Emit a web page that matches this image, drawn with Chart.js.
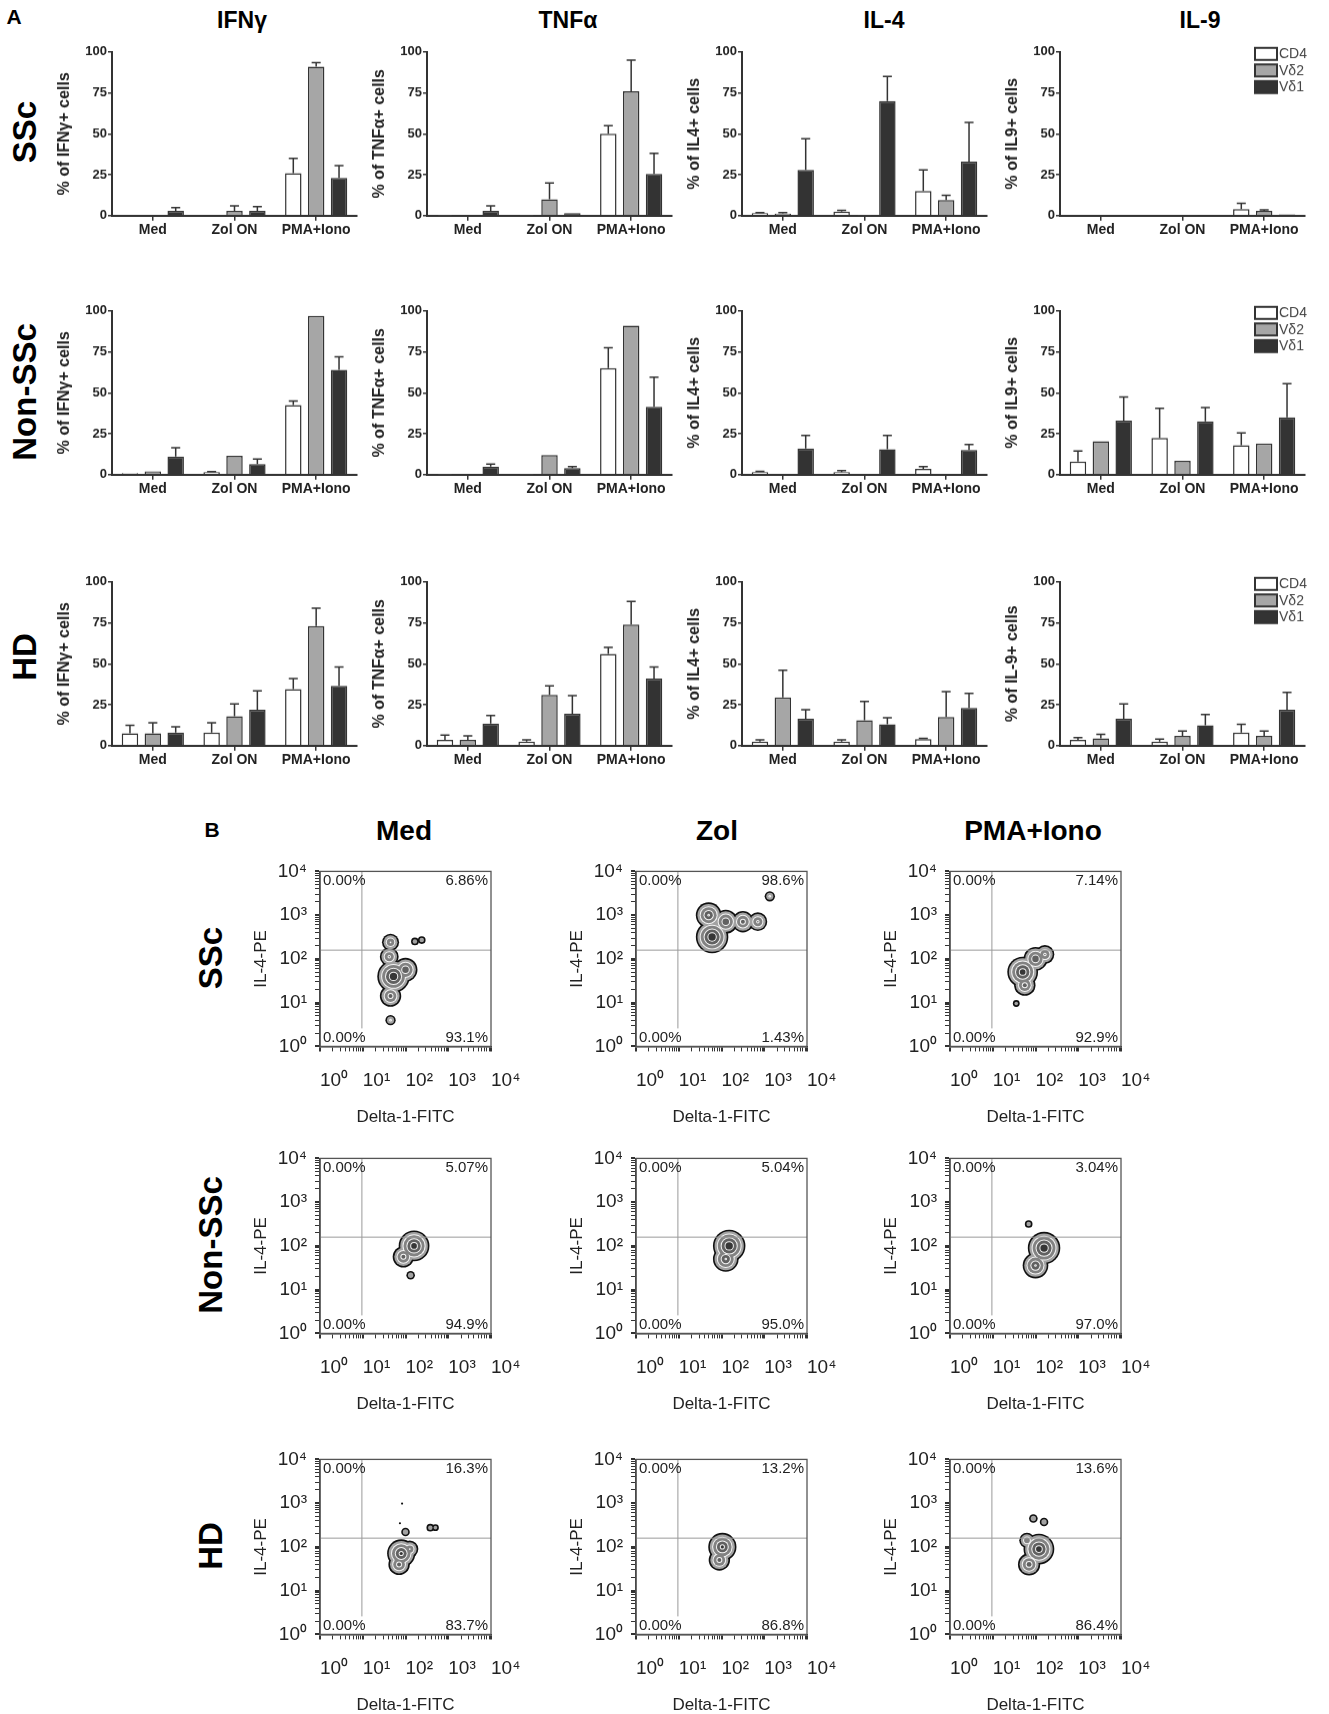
<!DOCTYPE html>
<html>
<head>
<meta charset="utf-8">
<script src="https://cdn.jsdelivr.net/npm/chart.js@4.4.1/dist/chart.umd.min.js"></script>
<style>
body { margin: 0; background: #fff; width: 1329px; height: 1714px; position: relative; overflow: hidden; font-family: Arial, "Liberation Sans", sans-serif; }
.box { position: absolute; }
.lbl { position: absolute; font-weight: bold; color: #000; white-space: nowrap; transform: translate(-50%, -50%); }
.rot { transform: translate(-50%, -50%) rotate(-90deg); }
</style>
</head>
<body>
<script>
// ---- panel A data ----
const categories = ['Med', 'Zol ON', 'PMA+Iono'];
const seriesNames = ['CD4', 'Vδ2', 'Vδ1'];
const groups = ['SSc', 'Non-SSc', 'HD'];
const cytokines = ['IFNγ', 'TNFα', 'IL-4', 'IL-9'];
const yTitles = [
  ['% of IFNγ+ cells', '% of TNFα+ cells', '% of IL4+ cells', '% of IL9+ cells'],
  ['% of IFNγ+ cells', '% of TNFα+ cells', '% of IL4+ cells', '% of IL9+ cells'],
  ['% of IFNγ+ cells', '% of TNFα+ cells', '% of IL4+ cells', '% of IL-9+ cells']
];

// means per series [CD4, Vd2, Vd1], and top of error bar
const sscIfngMean = [[0, 0.4, 26], [0, 3, 91], [3, 3, 23]];
const sscIfngErr  = [[0, 0.4, 35], [0, 6, 93.5], [5, 5.5, 30.5]];
const sscTnfMean  = [[0.3, 0.3, 50], [0, 10, 76], [3, 1.5, 25.5]];
const sscTnfErr   = [[0.3, 0.3, 55], [0, 20, 95], [6, 1.5, 38]];
const sscIl4Mean  = [[1.5, 2.5, 15], [1.2, 0.3, 9.5], [28, 70, 33]];
const sscIl4Err   = [[1.8, 3.2, 28], [1.8, 0.3, 12.5], [47, 85, 57]];
const sscIl9Mean  = [[0, 0, 4], [0, 0, 3], [0.5, 0.3, 0.8]];
const sscIl9Err   = [[0, 0, 7.5], [0, 0, 3.5], [0.5, 0.3, 1]];

const nonIfngMean = [[1, 1.5, 42.5], [2, 11.5, 97], [11, 6.5, 64]];
const nonIfngErr  = [[1.2, 1.8, 45], [2.2, 11.5, 97], [16.5, 9.5, 72]];
const nonTnfMean  = [[0.3, 0.3, 65], [0, 12, 91], [5, 4, 41.5]];
const nonTnfErr   = [[0.3, 0.3, 77.5], [0, 12, 91], [6.5, 5, 59.5]];
const nonIl4Mean  = [[1.5, 1.5, 3.5], [0, 0, 0], [16, 15.5, 15]];
const nonIl4Err   = [[2, 2.5, 5], [0, 0, 0], [24, 24, 18.5]];
const nonIl9Mean  = [[8, 22.5, 18], [20.5, 8.5, 19], [33, 32.5, 35]];
const nonIl9Err   = [[14.5, 40.5, 25.5], [20.5, 8.5, 19], [47.5, 41, 55.5]];

const hdIfngMean = [[7.5, 8, 34.5], [7.5, 18, 73], [8, 22, 36.5]];
const hdIfngErr  = [[12.5, 14, 41], [14, 25.5, 84], [11.5, 33.5, 48]];
const hdTnfMean  = [[3.5, 2.5, 56], [3.5, 31, 74], [13.5, 19.5, 41]];
const hdTnfErr   = [[6.5, 3.5, 60], [6, 36.5, 88], [18.5, 30.5, 48]];
const hdIl4Mean  = [[2.5, 2.5, 4], [29.5, 15.5, 17.5], [16.5, 13, 23]];
const hdIl4Err   = [[3.5, 3.5, 4.5], [46, 27, 33], [22, 17, 32]];
const hdIl9Mean  = [[3.5, 2.5, 8], [4.5, 6, 6], [16.5, 12.5, 22]];
const hdIl9Err   = [[5, 4, 13], [7, 9, 9], [25.5, 19, 32.5]];

// ---- panel B data ----
const conditions = ['Med', 'Zol', 'PMA+Iono'];
const flowTickLabels = ['10⁰', '10¹', '10²', '10³', '10⁴'];
const gateX = 0.98, gateY = 2.2;

// populations (log decades), r = spread in decades
const sscMedBlobs = [{x:1.65,y:2.38,r:0.2},{x:1.62,y:2.05,r:0.22},{x:1.72,y:1.6,r:0.38},{x:2.0,y:1.75,r:0.28},{x:1.65,y:1.15,r:0.25},{x:2.22,y:2.4,r:0.09},{x:2.38,y:2.43,r:0.09},{x:1.65,y:0.6,r:0.12}];
const sscZolBlobs = [{x:1.78,y:2.5,r:0.38},{x:1.7,y:3.0,r:0.3},{x:2.1,y:2.85,r:0.28},{x:2.5,y:2.85,r:0.25},{x:2.85,y:2.85,r:0.22},{x:3.13,y:3.43,r:0.12}];
const sscPmaBlobs = [{x:1.7,y:1.7,r:0.36},{x:1.75,y:1.4,r:0.25},{x:2.0,y:2.0,r:0.28},{x:2.22,y:2.1,r:0.22},{x:1.55,y:0.98,r:0.08}];
const nonMedBlobs = [{x:2.2,y:2.0,r:0.36},{x:1.95,y:1.75,r:0.25},{x:2.12,y:1.33,r:0.1}];
const nonZolBlobs = [{x:2.18,y:2.0,r:0.38},{x:2.1,y:1.7,r:0.3}];
const nonPmaBlobs = [{x:2.2,y:1.95,r:0.38},{x:2.0,y:1.55,r:0.3},{x:1.84,y:2.5,r:0.09}];
const hdMedBlobs  = [{x:1.9,y:1.85,r:0.33},{x:1.85,y:1.6,r:0.25},{x:2.1,y:1.95,r:0.2},{x:2.0,y:2.34,r:0.1},{x:2.58,y:2.44,r:0.09},{x:2.7,y:2.44,r:0.08},{x:1.92,y:2.99,r:0.025},{x:1.87,y:2.54,r:0.025}];
const hdZolBlobs  = [{x:2.02,y:2.0,r:0.33},{x:1.95,y:1.7,r:0.25}];
const hdPmaBlobs  = [{x:2.08,y:1.95,r:0.36},{x:1.85,y:1.6,r:0.26},{x:1.8,y:2.15,r:0.18},{x:1.95,y:2.65,r:0.1},{x:2.2,y:2.57,r:0.1}];

// quadrant % [UL, UR, LL, LR]
const sscMedPct = ['0.00%', '6.86%', '0.00%', '93.1%'];
const sscZolPct = ['0.00%', '98.6%', '0.00%', '1.43%'];
const sscPmaPct = ['0.00%', '7.14%', '0.00%', '92.9%'];
const nonMedPct = ['0.00%', '5.07%', '0.00%', '94.9%'];
const nonZolPct = ['0.00%', '5.04%', '0.00%', '95.0%'];
const nonPmaPct = ['0.00%', '3.04%', '0.00%', '97.0%'];
const hdMedPct  = ['0.00%', '16.3%', '0.00%', '83.7%'];
const hdZolPct  = ['0.00%', '13.2%', '0.00%', '86.8%'];
const hdPmaPct  = ['0.00%', '13.6%', '0.00%', '86.4%'];

// ---- look ----
const ARIAL = 'Arial, "Liberation Sans", sans-serif';
const fills = ['#ffffff', '#a6a6a6', '#333333'];
const INK = '#333';

function addLabel(text, x, y, size, rotate, weight) {
  const d = document.createElement('div');
  d.className = 'lbl' + (rotate ? ' rot' : '');
  d.textContent = text;
  d.style.left = x + 'px';
  d.style.top = y + 'px';
  d.style.fontSize = size + 'px';
  if (weight) d.style.fontWeight = weight;
  document.body.appendChild(d);
}

function makeBox(w, h) {
  const div = document.createElement('div');
  div.className = 'box';
  div.style.width = w + 'px';
  div.style.height = h + 'px';
  const c = document.createElement('canvas');
  div.appendChild(c);
  document.body.appendChild(div);
  return [div, c];
}
// put the chart area exactly on (left, top, w, h)
function fitArea(div, chart, left, top, w, h) {
  let ca = chart.chartArea;
  const dw = w - (ca.right - ca.left), dh = h - (ca.bottom - ca.top);
  if (Math.abs(dw) > 0.5 || Math.abs(dh) > 0.5) {
    div.style.width = (parseFloat(div.style.width) + dw) + 'px';
    div.style.height = (parseFloat(div.style.height) + dh) + 'px';
    chart.resize();
    ca = chart.chartArea;
  }
  div.style.left = (left - ca.left) + 'px';
  div.style.top = (top - ca.top) + 'px';
}

const errorBars = {
  id: 'errorBars',
  afterDatasetsDraw(chart) {
    const ctx = chart.ctx, y = chart.scales.y;
    chart.data.datasets.forEach((ds, i) => {
      const meta = chart.getDatasetMeta(i);
      meta.data.forEach((bar, j) => {
        const top = ds.err[j];
        if (top == null || top <= ds.data[j] + 0.2) return;
        const yt = y.getPixelForValue(top), yb = y.getPixelForValue(ds.data[j]);
        const w = bar.width * 0.55;
        ctx.save();
        ctx.strokeStyle = INK;
        ctx.lineWidth = 1.5;
        ctx.beginPath();
        ctx.moveTo(bar.x, yb); ctx.lineTo(bar.x, yt);
        ctx.moveTo(bar.x - w / 2, yt); ctx.lineTo(bar.x + w / 2, yt);
        ctx.stroke();
        ctx.restore();
      });
    });
  }
};

const boxLegend = {
  id: 'boxLegend',
  afterDraw(chart, args, opts) {
    if (!opts.show) return;
    const ctx = chart.ctx, ca = chart.chartArea;
    const x0 = ca.right - 50, y0 = ca.top - 4;
    ctx.save();
    ctx.font = '14px ' + ARIAL;
    ctx.textBaseline = 'middle';
    chart.data.datasets.forEach((ds, i) => {
      const y = y0 + i * 16.5;
      ctx.fillStyle = ds.backgroundColor;
      ctx.fillRect(x0, y, 22, 12);
      ctx.strokeStyle = INK;
      ctx.lineWidth = 2;
      ctx.strokeRect(x0, y, 22, 12);
      ctx.fillStyle = '#444';
      ctx.fillText(ds.label, x0 + 24, y + 6.5);
    });
    ctx.restore();
  }
};

function barChart(left, top, means, errs, yTitle, legend) {
  const PW = 245, PH = 163;
  const [div, c] = makeBox(58 + PW + 16, PH + 40);
  const chart = new Chart(c, {
    type: 'bar',
    data: {
      labels: categories,
      datasets: seriesNames.map((n, i) => ({
        label: n, data: means[i], err: errs[i],
        backgroundColor: fills[i], borderColor: INK, borderWidth: 1.5
      }))
    },
    options: {
      responsive: true, maintainAspectRatio: false, animation: false,
      layout: { padding: { top: 8, right: 16, left: 0, bottom: 0 } },
      datasets: { bar: { categoryPercentage: 0.84, barPercentage: 0.72 } },
      plugins: { legend: { display: false }, tooltip: { enabled: false }, boxLegend: { show: legend } },
      scales: {
        x: {
          grid: { display: true, drawOnChartArea: false, offset: false, tickLength: 5, color: INK, lineWidth: 1.5 },
          border: { color: INK, width: 2 },
          ticks: { color: '#222', padding: 1, maxRotation: 0, autoSkip: false, font: { family: ARIAL, size: 14, weight: 'bold' } },
          afterFit: s => { s.height = 26; }
        },
        y: {
          min: 0, max: 100,
          grid: { display: true, drawOnChartArea: false, tickLength: 4, color: INK, lineWidth: 1.5 },
          border: { color: INK, width: 2 },
          ticks: { stepSize: 25, color: '#222', padding: 1, font: { family: ARIAL, size: 13, weight: 'bold' } },
          title: { display: true, text: yTitle, color: '#222', padding: 1, font: { family: ARIAL, size: 16, weight: 'bold' } },
          afterFit: s => { s.width = 58; }
        }
      }
    },
    plugins: [errorBars, boxLegend]
  });
  fitArea(div, chart, left, top, PW, PH);
}

// ---- flow plots ----
const LEVELS = [
  { edge: '#111111', w: 1.6, fill: '#a2a2a2' },
  { edge: '#f4f4f4', w: 1.0, fill: '#828282' },
  { edge: '#f4f4f4', w: 1.0, fill: '#616161' },
  { edge: '#eeeeee', w: 1.0, fill: '#363636' }
];
const STEP = 0.09;
const logTicks = [];
for (let d = 0; d < 4; d++) for (let k = 1; k < 10; k++) logTicks.push(d + Math.log10(k));
logTicks.push(4);

function radPx(c, L) {
  const s = c.chart.scales.x;
  return Math.max(0.8, Math.abs(s.getPixelForValue(c.raw.r - L * STEP) - s.getPixelForValue(0)));
}

const flowDecor = {
  id: 'flowDecor',
  afterDatasetsDraw(chart, args, opts) {
    const ctx = chart.ctx, ca = chart.chartArea, sx = chart.scales.x, sy = chart.scales.y;
    ctx.save();
    ctx.strokeStyle = '#9a9a9a';
    ctx.lineWidth = 1;
    const gx = sx.getPixelForValue(gateX), gy = sy.getPixelForValue(gateY);
    ctx.beginPath();
    ctx.moveTo(gx, ca.top); ctx.lineTo(gx, ca.bottom - 18);
    ctx.moveTo(ca.left, gy); ctx.lineTo(ca.right, gy);
    ctx.stroke();
    ctx.strokeStyle = '#555';
    ctx.lineWidth = 1.3;
    ctx.strokeRect(ca.left, ca.top, ca.right - ca.left, ca.bottom - ca.top);
    ctx.fillStyle = '#222';
    ctx.font = '15px ' + ARIAL;
    const p = opts.pct;
    ctx.textBaseline = 'top';
    ctx.textAlign = 'left'; ctx.fillText(p[0], ca.left + 3, ca.top + 2);
    ctx.textAlign = 'right'; ctx.fillText(p[1], ca.right - 3, ca.top + 2);
    ctx.textBaseline = 'bottom';
    ctx.textAlign = 'left'; ctx.fillText(p[2], ca.left + 3, ca.bottom - 1);
    ctx.textAlign = 'right'; ctx.fillText(p[3], ca.right - 3, ca.bottom - 1);
    ctx.restore();
  }
};

function flowChart(left, top, blobs, pct) {
  const PW = 171, PH = 175;
  const datasets = [];
  LEVELS.forEach((lv, L) => {
    const pts = blobs.filter(b => b.r - L * STEP > 0.015);
    if (!pts.length) return;
    datasets.push({ data: pts, pointRadius: c => radPx(c, L), pointBackgroundColor: lv.edge, pointBorderWidth: 0, pointHoverRadius: c => radPx(c, L) });
    datasets.push({ data: pts, pointRadius: c => Math.max(0, radPx(c, L) - lv.w), pointBackgroundColor: lv.fill, pointBorderWidth: 0, pointHoverRadius: c => Math.max(0, radPx(c, L) - lv.w) });
  });
  // chart.js paints the first dataset on top, so innermost level goes first
  datasets.reverse();
  const axisCommon = {
    min: 0, max: 4,
    grid: { display: true, drawOnChartArea: false, tickLength: 5, color: '#333', lineWidth: c => (Number.isInteger(c.tick && c.tick.value) ? 2 : 1) },
    border: { color: '#333', width: 1.5 },
    afterBuildTicks: s => { s.ticks = logTicks.map(v => ({ value: v })); },
    ticks: {
      autoSkip: false, maxRotation: 0, color: '#222', padding: 8,
      font: { family: ARIAL, size: 19 },
      callback: v => (Number.isInteger(v) ? flowTickLabels[v] : '')
    }
  };
  const [div, c] = makeBox(72 + PW + 30, PH + 100);
  const chart = new Chart(c, {
    type: 'scatter',
    data: { datasets },
    options: {
      responsive: true, maintainAspectRatio: false, animation: false,
      layout: { padding: { top: 12, right: 30, left: 0, bottom: 0 } },
      plugins: { legend: { display: false }, tooltip: { enabled: false }, flowDecor: { pct } },
      scales: {
        x: Object.assign({}, axisCommon, {
          ticks: Object.assign({}, axisCommon.ticks, { padding: 18, align: 'start' }),
          title: { display: true, text: 'Delta-1-FITC', color: '#222', padding: 4, font: { family: ARIAL, size: 17 } },
          afterFit: s => { s.height = 85; }
        }),
        y: Object.assign({}, axisCommon, {
          title: { display: true, text: 'IL-4-PE', color: '#222', padding: 3, font: { family: ARIAL, size: 17 } },
          afterFit: s => { s.width = 72; }
        })
      }
    },
    plugins: [flowDecor]
  });
  fitArea(div, chart, left, top, PW, PH);
}

// ---- build panel A ----
addLabel('A', 14, 17, 21);
const colCenters = [242, 568, 884, 1200];
cytokines.forEach((t, i) => addLabel(t, colCenters[i], 20, 23));
const rowCenters = [132, 392, 657];
groups.forEach((g, i) => addLabel(g, 25, rowCenters[i], 33, true));

const barLeft = [112, 427, 742, 1060];
const barTop = [52, 311, 582];
const means = [
  [sscIfngMean, sscTnfMean, sscIl4Mean, sscIl9Mean],
  [nonIfngMean, nonTnfMean, nonIl4Mean, nonIl9Mean],
  [hdIfngMean, hdTnfMean, hdIl4Mean, hdIl9Mean]
];
const errs = [
  [sscIfngErr, sscTnfErr, sscIl4Err, sscIl9Err],
  [nonIfngErr, nonTnfErr, nonIl4Err, nonIl9Err],
  [hdIfngErr, hdTnfErr, hdIl4Err, hdIl9Err]
];
for (let r = 0; r < 3; r++)
  for (let k = 0; k < 4; k++)
    barChart(barLeft[k], barTop[r], means[r][k], errs[r][k], yTitles[r][k], k === 3);

// ---- build panel B ----
addLabel('B', 212, 830, 21);
const flowCenters = [404, 717, 1033];
conditions.forEach((t, i) => addLabel(t, flowCenters[i], 831, 28));
const flowRowCenters = [958, 1245, 1546];
groups.forEach((g, i) => addLabel(g, 211, flowRowCenters[i], 33, true));

const flowLeft = [320, 636, 950];
const flowTop = [871, 1158, 1459];
const blobs = [
  [sscMedBlobs, sscZolBlobs, sscPmaBlobs],
  [nonMedBlobs, nonZolBlobs, nonPmaBlobs],
  [hdMedBlobs, hdZolBlobs, hdPmaBlobs]
];
const pcts = [
  [sscMedPct, sscZolPct, sscPmaPct],
  [nonMedPct, nonZolPct, nonPmaPct],
  [hdMedPct, hdZolPct, hdPmaPct]
];
for (let r = 0; r < 3; r++)
  for (let k = 0; k < 3; k++)
    flowChart(flowLeft[k], flowTop[r], blobs[r][k], pcts[r][k]);
</script>
</body>
</html>
